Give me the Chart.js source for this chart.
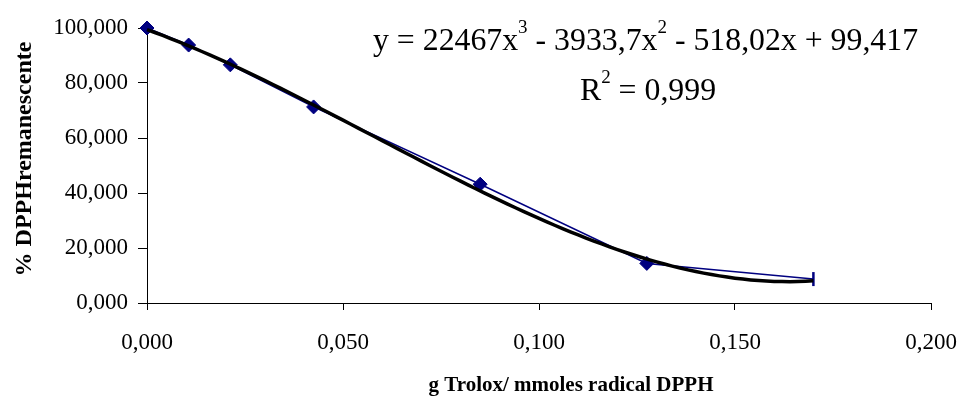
<!DOCTYPE html>
<html>
<head>
<meta charset="utf-8">
<script src="https://cdn.jsdelivr.net/npm/chart.js@4/dist/chart.umd.min.js"></script>
<style>
  html, body { margin: 0; padding: 0; background: #ffffff; }
  #wrap { width: 962px; height: 398px; }
</style>
</head>
<body>
<div id="wrap"><canvas id="c" width="962" height="398"></canvas></div>
<script>
// Trolox dose (g / mmol DPPH radical) and remaining DPPH (%)
const doseX = [0, 0.010625, 0.02125, 0.0425, 0.085, 0.1275, 0.17];
const remainingDPPH = [100.0, 93.8, 86.6, 71.3, 43.2, 14.4, 8.7];

// Axis ticks
const xTicks = [0, 0.05, 0.1, 0.15, 0.2];
const yTicks = [0, 20, 40, 60, 80, 100];

// Cubic trendline coefficients (x^3, x^2, x, constant) as printed on the chart
const trendCoefficients = [22467, -3933.7, -518.02, 99.417];
const trendX = [];
for (let i = 0; i <= 85; i++) trendX.push(i * 0.002);

// Printed trendline equation and fit quality; sup = superscript piece
const equationParts = [
  { t: 'y = 22467x' }, { t: '3', sup: true },
  { t: ' - 3933,7x' }, { t: '2', sup: true },
  { t: ' - 518,02x + 99,417' }
];
const r2Parts = [{ t: 'R' }, { t: '2', sup: true }, { t: ' = 0,999' }];

const xTitle = 'g Trolox/ mmoles radical DPPH';
const yTitle = '% DPPHremanescente';

const serif = '"Liberation Serif", "Times New Roman", serif';

function polyAt(x) {
  const [a, b, c, d] = trendCoefficients;
  return ((a * x + b) * x + c) * x + d;
}
const trendPoints = trendX.map(x => ({ x: x, y: polyAt(x) }));
const dataPoints = doseX.map((x, i) => ({ x: x, y: remainingDPPH[i] }));
const lastIdx = doseX.length - 1;

const fmt = v => Number(v).toFixed(3).replace('.', ',');

function drawRich(ctx, parts, x, y, size, supSize, raise, align) {
  let w = 0;
  parts.forEach(p => {
    ctx.font = (p.sup ? supSize : size) + 'px ' + serif;
    w += ctx.measureText(p.t).width;
  });
  let cx = align === 'center' ? x - w / 2 : x;
  ctx.textAlign = 'left';
  ctx.textBaseline = 'alphabetic';
  parts.forEach(p => {
    ctx.font = (p.sup ? supSize : size) + 'px ' + serif;
    ctx.fillText(p.t, cx, p.sup ? y - raise : y);
    cx += ctx.measureText(p.t).width;
  });
}

const textPlugin = {
  id: 'chartText',
  afterDraw(chart) {
    const ctx = chart.ctx;
    ctx.save();
    ctx.fillStyle = '#000000';
    // trendline equation and R²
    drawRich(ctx, equationParts, 373, 50, 31.8, 19, 17, 'left');
    drawRich(ctx, r2Parts, 648, 100, 31.8, 19, 17, 'center');
    // axis titles
    ctx.font = 'bold 21px ' + serif;
    ctx.textAlign = 'center';
    ctx.textBaseline = 'alphabetic';
    ctx.fillText(xTitle, 571, 391);
    ctx.font = 'bold 24px ' + serif;
    ctx.translate(25, 159);
    ctx.rotate(-Math.PI / 2);
    ctx.textBaseline = 'middle';
    ctx.fillText(yTitle, 0, 0);
    ctx.restore();
  }
};

new Chart(document.getElementById('c'), {
  type: 'scatter',
  data: {
    datasets: [
      {
        label: 'Polinómica',
        data: trendPoints,
        showLine: true,
        borderColor: '#000000',
        borderWidth: 3.5,
        pointRadius: 0,
        tension: 0,
        clip: false
      },
      {
        label: 'DPPH',
        data: dataPoints,
        showLine: true,
        borderColor: '#000080',
        borderWidth: 1.5,
        backgroundColor: '#000080',
        pointBackgroundColor: '#000080',
        pointBorderColor: '#000080',
        pointBorderWidth: doseX.map((x, i) => i === lastIdx ? 2.5 : 1),
        pointStyle: doseX.map((x, i) => i === lastIdx ? 'line' : 'rectRot'),
        pointRotation: doseX.map((x, i) => i === lastIdx ? 90 : 0),
        pointRadius: 7,
        pointHoverRadius: 7,
        tension: 0,
        clip: false
      }
    ]
  },
  options: {
    responsive: false,
    animation: false,
    devicePixelRatio: 1,
    layout: { padding: { top: 28, right: 31, bottom: 0, left: 0 } },
    plugins: {
      legend: { display: false },
      tooltip: { enabled: false },
      title: { display: false }
    },
    scales: {
      x: {
        type: 'linear',
        min: 0,
        max: 0.2,
        afterBuildTicks: s => { s.ticks = xTicks.map(v => ({ value: v })); },
        afterFit: s => { s.height = 95; s.paddingLeft = 0; s.paddingRight = 0; },
        border: { display: true, color: '#000000', width: 1 },
        grid: { display: true, drawOnChartArea: false, drawTicks: true, tickLength: 7, color: '#000000' },
        ticks: {
          color: '#000000',
          font: { family: serif, size: 23 },
          padding: 19,
          maxRotation: 0,
          callback: v => fmt(v)
        }
      },
      y: {
        type: 'linear',
        min: 0,
        max: 100,
        afterBuildTicks: s => { s.ticks = yTicks.map(v => ({ value: v })); },
        afterFit: s => { s.width = 147; s.paddingTop = 0; s.paddingBottom = 0; },
        border: { display: true, color: '#000000', width: 1 },
        grid: { display: true, drawOnChartArea: false, drawTicks: true, tickLength: 9, color: '#000000' },
        ticks: {
          color: '#000000',
          font: { family: serif, size: 23 },
          padding: 10,
          callback: v => fmt(v)
        }
      }
    }
  },
  plugins: [textPlugin]
});
</script>
</body>
</html>
